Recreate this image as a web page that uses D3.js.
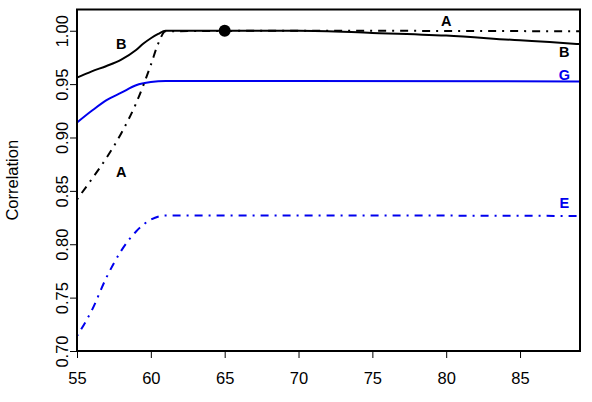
<!DOCTYPE html>
<html>
<head>
  <script src="https://d3js.org/d3.v7.min.js"></script>
  <style>
    body { margin: 0; background: #fff; }
    text { font-family: 'Liberation Sans', Arial, sans-serif; }
  </style>
</head>
<body>
  <div id="chart"></div>
  <script>
    // values
    var xTicks = [55, 60, 65, 70, 75, 80, 85];
    var yTicks = [0.70, 0.75, 0.80, 0.85, 0.90, 0.95, 1.00];

    var seriesA = [[55, 0.842], [56, 0.861], [57, 0.881], [58, 0.904], [59, 0.932], [60, 0.968], [60.5, 0.988], [61, 0.9995], [70, 1.0], [89, 0.9995]];
    var seriesB = [[55, 0.956], [56, 0.962], [57, 0.967], [58, 0.973], [59, 0.982], [59.5, 0.988], [60, 0.993], [60.5, 0.997], [61, 1.0], [70, 1.0], [75, 0.998], [80, 0.9955], [85, 0.991], [87, 0.9895], [89, 0.9875]];
    var seriesG = [[55, 0.914], [56, 0.925], [57, 0.935], [58, 0.942], [59, 0.949], [60, 0.952], [61, 0.953], [70, 0.953], [89, 0.9525]];
    var seriesE = [[55, 0.714], [56, 0.738], [57, 0.769], [58, 0.794], [59, 0.812], [60, 0.823], [61, 0.827], [70, 0.827], [89, 0.8265]];

    var marker = [65, 1.0];

    var labels = [
      { text: "B", x: 58.0, y: 0.988, colour: "black" },
      { text: "A", x: 58.0, y: 0.868, colour: "black" },
      { text: "A", x: 80.0, y: 1.009, colour: "black" },
      { text: "B", x: 88.0, y: 0.9805, colour: "black" },
      { text: "G", x: 88.0, y: 0.959, colour: "#0000ee" },
      { text: "E", x: 88.0, y: 0.839, colour: "#0000ee" }
    ];

    var width = 592, height = 402;
    var margin = { top: 9.5, right: 12, bottom: 50, left: 77 };
    var axisFont = 16.5;

    var x = d3.scaleLinear().domain([55, 89.06]).range([margin.left, width - margin.right]);
    var y = d3.scaleLinear().domain([0.70, 1.0199]).range([351, margin.top]);

    var svg = d3.select("#chart").append("svg")
      .attr("width", width)
      .attr("height", height);

    var line = d3.line()
      .x(function (d) { return x(d[0]); })
      .y(function (d) { return y(d[1]); })
      .curve(d3.curveMonotoneX);

    var lines = [
      { data: seriesE, colour: "#0000ee", dash: "2,6,8,6" },
      { data: seriesG, colour: "#0000ee", dash: null },
      { data: seriesA, colour: "black", dash: "2,6,8,6" },
      { data: seriesB, colour: "black", dash: null }
    ];

    svg.selectAll("path.series")
      .data(lines)
      .enter()
      .append("path")
      .attr("class", "series")
      .attr("d", function (d) { return line(d.data); })
      .attr("fill", "none")
      .attr("stroke", function (d) { return d.colour; })
      .attr("stroke-width", 2)
      .attr("stroke-dasharray", function (d) { return d.dash; });

    svg.append("circle")
      .attr("cx", x(marker[0]))
      .attr("cy", y(marker[1]))
      .attr("r", 6)
      .attr("fill", "black");

    svg.selectAll("text.lbl")
      .data(labels)
      .enter()
      .append("text")
      .attr("class", "lbl")
      .attr("x", function (d) { return x(d.x); })
      .attr("y", function (d) { return y(d.y); })
      .attr("dy", "0.35em")
      .attr("text-anchor", "middle")
      .attr("font-size", 14.5)
      .attr("font-weight", "bold")
      .attr("fill", function (d) { return d.colour; })
      .text(function (d) { return d.text; });

    // frame
    svg.append("rect")
      .attr("x", margin.left)
      .attr("y", margin.top)
      .attr("width", width - margin.right - margin.left)
      .attr("height", 351 - margin.top)
      .attr("fill", "none")
      .attr("stroke", "black")
      .attr("stroke-width", 2);

    // x axis
    var xAxis = d3.axisBottom(x).tickValues(xTicks).tickSize(7).tickPadding(14)
      .tickFormat(d3.format("d"));
    var gx = svg.append("g")
      .attr("transform", "translate(0,351)")
      .call(xAxis);
    gx.select(".domain").remove();
    gx.selectAll("text").attr("font-size", axisFont).attr("font-family", "'Liberation Sans', Arial, sans-serif");

    // y axis
    var yAxis = d3.axisLeft(y).tickValues(yTicks).tickSize(7).tickFormat(d3.format(".2f"));
    var gy = svg.append("g")
      .attr("transform", "translate(" + margin.left + ",0)")
      .call(yAxis);
    gy.select(".domain").remove();
    gy.selectAll("text")
      .attr("font-size", axisFont)
      .attr("font-family", "'Liberation Sans', Arial, sans-serif")
      .attr("text-anchor", "middle")
      .attr("transform", "translate(-15,0) rotate(-90)")
      .attr("x", 0)
      .attr("y", 0)
      .attr("dy", "0.35em");

    svg.append("text")
      .attr("transform", "translate(12," + ((margin.top + 351) / 2) + ") rotate(-90)")
      .attr("text-anchor", "middle")
      .attr("dy", "0.35em")
      .attr("font-size", axisFont)
      .text("Correlation");
  </script>
</body>
</html>
